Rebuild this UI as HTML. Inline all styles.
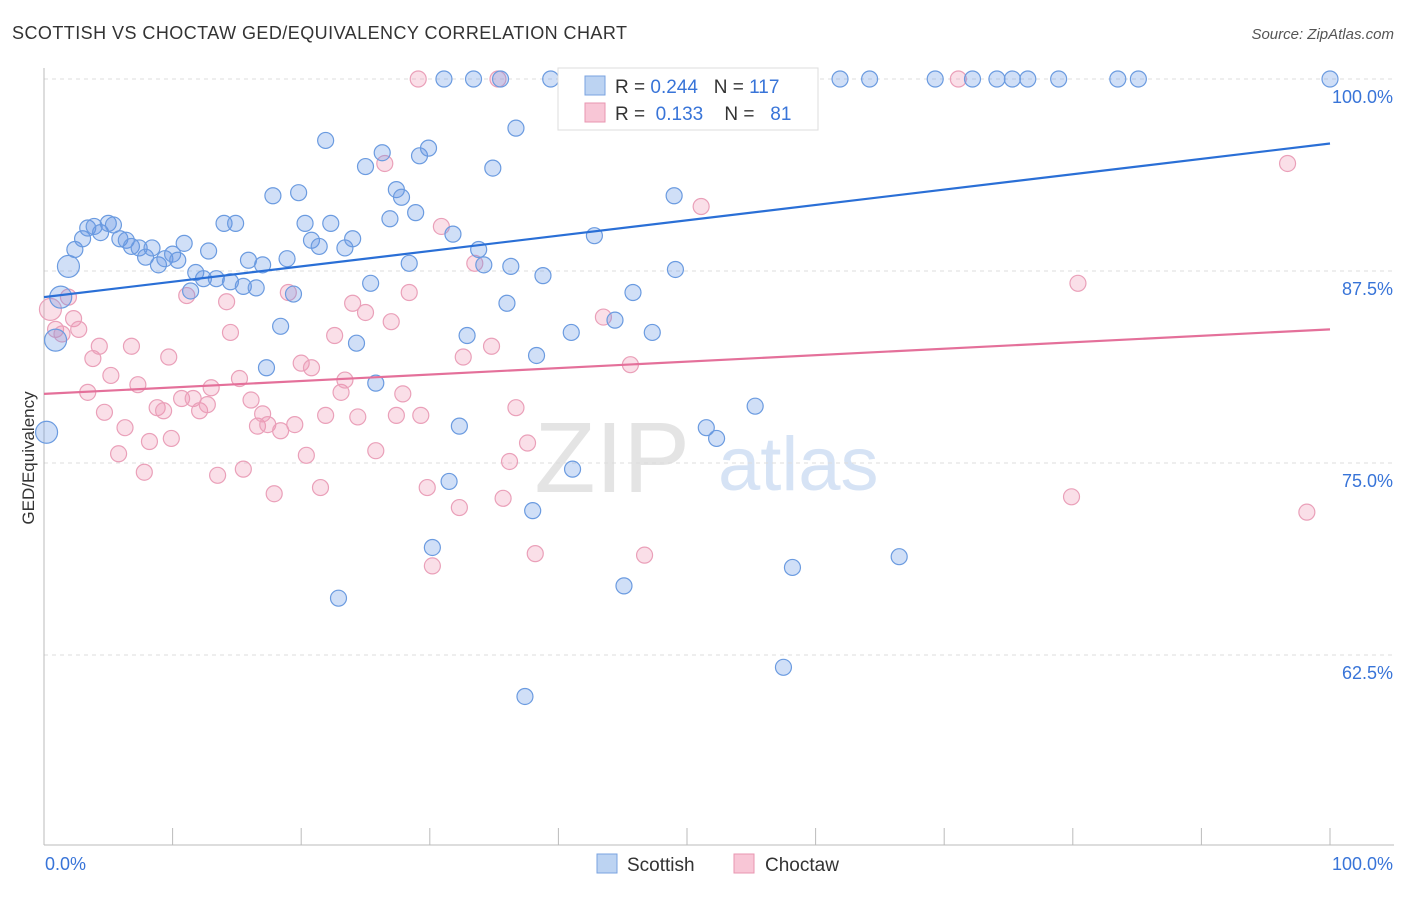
<!DOCTYPE html>
<html><head><meta charset="utf-8">
<style>
body{margin:0;background:#fff;font-family:"Liberation Sans",sans-serif;}
svg text{font-family:"Liberation Sans",sans-serif;}
</style></head>
<body>
<svg id="chart" width="1406" height="892">
<text x="12" y="39" font-size="18" fill="#333" textLength="615">SCOTTISH VS CHOCTAW GED/EQUIVALENCY CORRELATION CHART</text>
<text x="1394" y="39" font-size="15" fill="#555" font-style="italic" text-anchor="end">Source: ZipAtlas.com</text>
<text x="0" y="0" font-size="17" fill="#333" transform="translate(34,458) rotate(-90)" text-anchor="middle">GED/Equivalency</text>
<g id="watermark">
<text x="690" y="492" font-size="100" fill="#e4e4e4" text-anchor="end" font-family="Liberation Serif">ZIP</text>
<text x="718" y="490" font-size="76" fill="#d6e3f5">atlas</text>
</g>
<g id="grid"></g><g id="axes"></g><g id="pts"></g><g id="lines"></g>
<g>
<rect x="558" y="68" width="260" height="62" fill="#fff" stroke="#ddd"/>
<rect x="585" y="76" width="20" height="19" fill="#bcd3f2" stroke="#7aa3e0"/>
<text x="615" y="93" font-size="19" fill="#333" xml:space="preserve">R = <tspan fill="#3874d8">0.244</tspan>   N = <tspan fill="#3874d8">117</tspan></text>
<rect x="585" y="103" width="20" height="19" fill="#f8c6d6" stroke="#e896b0"/>
<text x="615" y="120" font-size="19" fill="#333" xml:space="preserve">R =  <tspan fill="#3874d8">0.133</tspan>    N =   <tspan fill="#3874d8">81</tspan></text>
</g>
<g>
<rect x="597" y="854" width="20" height="19" fill="#bcd3f2" stroke="#7aa3e0"/>
<text x="627" y="871" font-size="19" fill="#333">Scottish</text>
<rect x="734" y="854" width="20" height="19" fill="#f8c6d6" stroke="#e896b0"/>
<text x="765" y="871" font-size="19" fill="#333">Choctaw</text>
</g>
</svg>
<script>
const blueX=[0.2,0.9,1.3,1.9,2.4,3.0,3.4,3.9,4.4,5.0,5.4,5.9,6.4,6.8,7.4,7.9,8.4,8.9,9.4,10.0,10.4,10.9,11.4,11.8,12.4,12.8,13.4,14.0,14.5,14.9,15.5,15.9,16.5,17.0,17.3,17.8,18.4,18.9,19.4,19.8,20.3,20.8,21.4,21.9,22.3,22.9,23.4,24.0,24.3,25.0,25.4,25.8,26.3,26.9,27.4,27.8,28.4,28.9,29.2,29.9,30.2,31.1,31.5,31.8,32.3,32.9,33.4,33.8,34.2,34.9,35.5,36.0,36.3,36.7,37.4,38.0,38.3,38.8,39.4,41.0,41.1,41.6,42.8,44.4,45.1,45.8,47.3,49.0,49.1,51.5,52.3,53.9,55.3,57.5,58.2,59.0,61.9,64.2,66.5,69.3,72.2,74.1,75.3,76.5,78.9,83.5,85.1,100];
const blueY=[77.0,83.0,85.8,87.8,88.9,89.6,90.3,90.4,90.0,90.6,90.5,89.6,89.5,89.1,89.0,88.4,89.0,87.9,88.3,88.6,88.2,89.3,86.2,87.4,87.0,88.8,87.0,90.6,86.8,90.6,86.5,88.2,86.4,87.9,81.2,92.4,83.9,88.3,86.0,92.6,90.6,89.5,89.1,96.0,90.6,66.2,89.0,89.6,82.8,94.3,86.7,80.2,95.2,90.9,92.8,92.3,88.0,91.3,95.0,95.5,69.5,100,73.8,89.9,77.4,83.3,100,88.9,87.9,94.2,100,85.4,87.8,96.8,59.8,71.9,82.0,87.2,100,83.5,74.6,100,89.8,84.3,67.0,86.1,83.5,92.4,87.6,77.3,76.6,98.2,78.7,61.7,68.2,100,100,100,68.9,100,100,100,100,100,100,100,100,100];
const pinkX=[0.5,0.9,1.4,1.9,2.3,2.7,3.4,3.8,4.3,4.7,5.2,5.8,6.3,6.8,7.3,7.8,8.2,8.8,9.3,9.7,9.9,10.7,11.1,11.6,12.1,12.7,13.0,13.5,14.2,14.5,15.2,15.5,16.1,16.6,17.0,17.4,17.9,18.4,19.0,19.5,20.0,20.4,20.8,21.5,21.9,22.6,23.1,23.4,24.0,24.4,25.0,25.8,26.5,27.0,27.4,27.9,28.4,29.1,29.3,29.8,30.2,30.9,32.3,32.6,33.5,34.8,35.3,35.7,36.2,36.7,37.6,38.2,43.5,45.6,46.7,51.1,71.1,79.9,80.4,96.7,98.2];
const pinkY=[85.0,83.7,83.4,85.8,84.4,83.7,79.6,81.8,82.6,78.3,80.7,75.6,77.3,82.6,80.1,74.4,76.4,78.6,78.4,81.9,76.6,79.2,85.9,79.2,78.4,78.8,79.9,74.2,85.5,83.5,80.5,74.6,79.1,77.4,78.2,77.5,73.0,77.1,86.1,77.5,81.5,75.5,81.2,73.4,78.1,83.3,79.6,80.4,85.4,78.0,84.8,75.8,94.5,84.2,78.1,79.5,86.1,100,78.1,73.4,68.3,90.4,72.1,81.9,88.0,82.6,100,72.7,75.1,78.6,76.3,69.1,84.5,81.4,69.0,91.7,100,72.8,86.7,94.5,71.8];
const blueTrend=[85.8,95.8];
const pinkTrend=[79.5,83.7];
const yTicks=[100,87.5,75,62.5];
const yTickLabels=["100.0%","87.5%","75.0%","62.5%"];
const NS="http://www.w3.org/2000/svg";
const X=v=>44+v*12.86;
const Y=v=>79+(100-v)*15.36;
function mk(tag,attrs,parent){const e=document.createElementNS(NS,tag);for(const k in attrs)e.setAttribute(k,attrs[k]);parent.appendChild(e);return e;}
const grid=document.getElementById('grid'),axes=document.getElementById('axes'),pts=document.getElementById('pts'),lines=document.getElementById('lines');
yTicks.forEach((t,i)=>{
 const l=mk('line',{x1:44,x2:1394,y1:Y(t),y2:Y(t),stroke:'#ddd','stroke-dasharray':'4,4'},grid);
 
 
 const tx=mk('text',{x:1393,y:Y(t)+24,'font-size':18,fill:'#3874d8','text-anchor':'end'},axes);
 tx.textContent=yTickLabels[i];
 
 
});
let a=mk('line',{x1:44,x2:1394,y1:845,y2:845,stroke:'#bbb'},axes);


a=mk('line',{x1:44,x2:44,y1:68,y2:845,stroke:'#bbb'},axes);


for(let i=0;i<=10;i++){const t=mk('line',{x1:X(i*10),x2:X(i*10),y1:828,y2:845,stroke:'#bbb'},axes);
 
 }
let t0=mk('text',{x:45,y:870,'font-size':18,fill:'#3874d8'},axes);t0.textContent='0.0%';


let t1=mk('text',{x:1393,y:870,'font-size':18,fill:'#3874d8','text-anchor':'end'},axes);t1.textContent='100.0%';


function dots(xs,ys,fill,stroke,name,bigCount){xs.forEach((x,i)=>{const big=i<bigCount;
 const c=mk('circle',{cx:X(x),cy:Y(ys[i]),r:big?11:8,fill:fill,stroke:stroke,'stroke-width':1.2},pts);
 
 });}
dots(pinkX,pinkY,'rgba(240,150,180,0.3)','#eaa0b9','choctaw-point',1);
dots(blueX,blueY,'rgba(100,150,230,0.3)','#6b9be0','scottish-point',4);
let bl=mk('line',{x1:X(0),y1:Y(blueTrend[0]),x2:X(100),y2:Y(blueTrend[1]),stroke:'#2a6fd6','stroke-width':2.2},lines);


let pl=mk('line',{x1:X(0),y1:Y(pinkTrend[0]),x2:X(100),y2:Y(pinkTrend[1]),stroke:'#e4709a','stroke-width':2.2},lines);


</script>
</body></html>
